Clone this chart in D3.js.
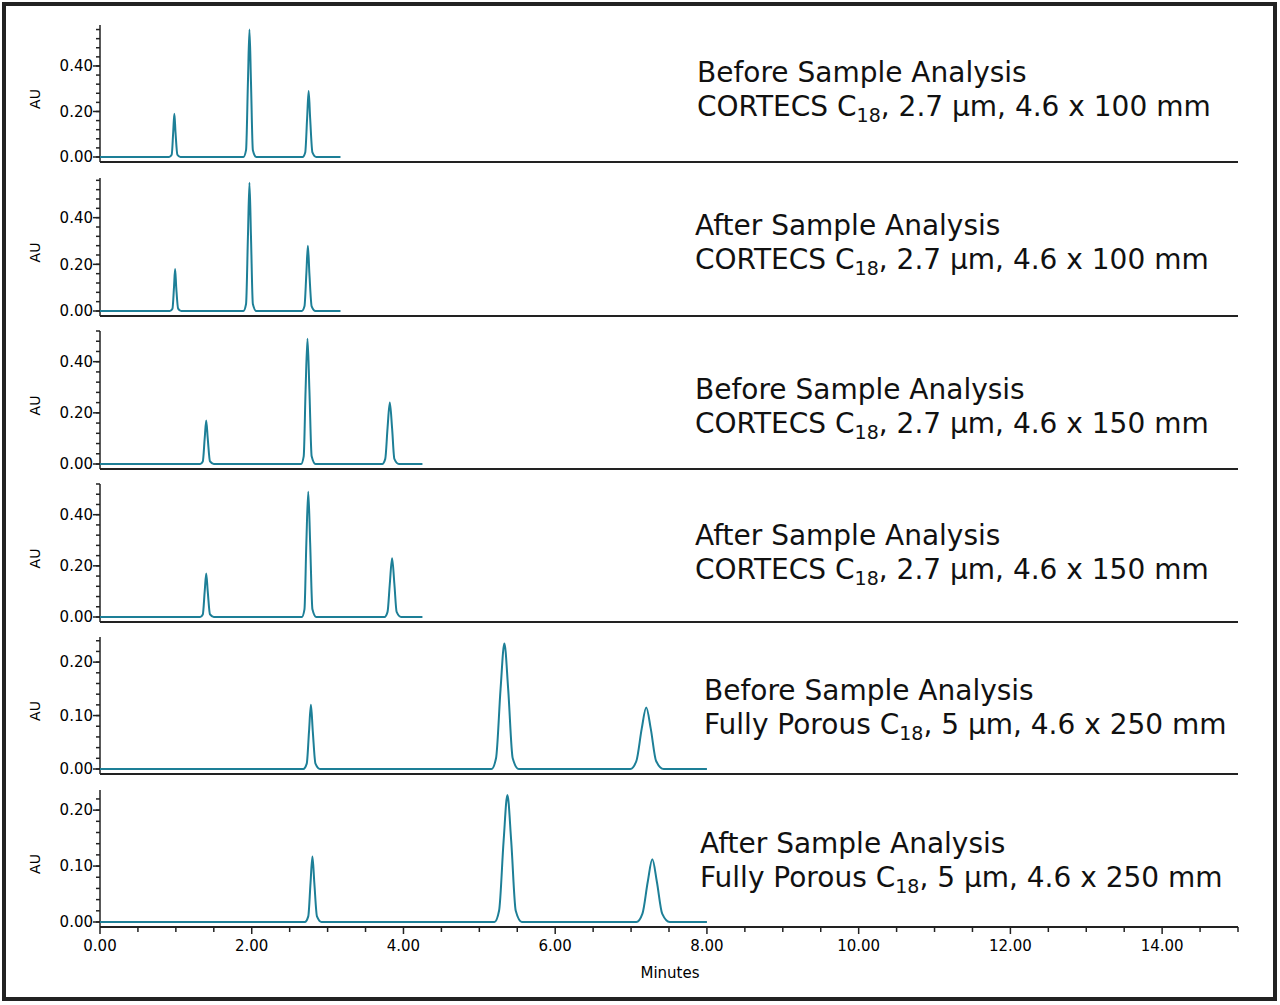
<!DOCTYPE html>
<html>
<head>
<meta charset="utf-8">
<script src="https://cdn.jsdelivr.net/npm/d3@7"></script>
<style>
  body { margin: 0; background: #fff; }
  svg { display: block; }
</style>
</head>
<body>
<svg id="chart" width="1280" height="1005"></svg>
<script>
// time axis ticks (minutes)
const xTicks = [0, 2, 4, 6, 8, 10, 12, 14];

// panel titles
const titleLines = [
  ["Before Sample Analysis", "CORTECS C", "18", ", 2.7 µm, 4.6 x 100 mm"],
  ["After Sample Analysis", "CORTECS C", "18", ", 2.7 µm, 4.6 x 100 mm"],
  ["Before Sample Analysis", "CORTECS C", "18", ", 2.7 µm, 4.6 x 150 mm"],
  ["After Sample Analysis", "CORTECS C", "18", ", 2.7 µm, 4.6 x 150 mm"],
  ["Before Sample Analysis", "Fully Porous C", "18", ", 5 µm, 4.6 x 250 mm"],
  ["After Sample Analysis", "Fully Porous C", "18", ", 5 µm, 4.6 x 250 mm"]
];

// y axis maxima and tick labels per panel
const yMax = [0.58, 0.57, 0.52, 0.52, 0.247, 0.236];
const yMajor = [
  [0, 0.2, 0.4], [0, 0.2, 0.4], [0, 0.2, 0.4], [0, 0.2, 0.4],
  [0, 0.1, 0.2], [0, 0.1, 0.2]
];
const yMinorStep = [0.04, 0.04, 0.04, 0.04, 0.02, 0.02];

// traces: [minutes, AU]
const trace1 = [[0,0],[0.91,0],[0.945,0.01],[0.965,0.11],[0.98,0.19],[0.995,0.11],[1.02,0.01],[1.06,0],
  [1.89,0],[1.925,0.03],[1.95,0.33],[1.97,0.56],[1.99,0.33],[2.015,0.03],[2.06,0],
  [2.67,0],[2.705,0.02],[2.73,0.17],[2.75,0.29],[2.77,0.17],[2.8,0.02],[2.85,0],[3.17,0]];
const trace2 = [[0,0],[0.92,0],[0.955,0.01],[0.975,0.1],[0.99,0.18],[1.005,0.1],[1.03,0.01],[1.07,0],
  [1.89,0],[1.925,0.03],[1.95,0.32],[1.97,0.55],[1.99,0.32],[2.015,0.03],[2.06,0],
  [2.66,0],[2.695,0.02],[2.72,0.16],[2.74,0.28],[2.76,0.16],[2.79,0.02],[2.84,0],[3.17,0]];
const trace3 = [[0,0],[1.32,0],[1.355,0.01],[1.38,0.1],[1.4,0.17],[1.42,0.1],[1.45,0.01],[1.5,0],
  [2.65,0],[2.685,0.03],[2.71,0.29],[2.735,0.49],[2.76,0.29],[2.79,0.03],[2.84,0],
  [3.72,0],[3.76,0.02],[3.79,0.14],[3.82,0.24],[3.85,0.14],[3.88,0.02],[3.94,0],[4.25,0]];
const trace4 = [[0,0],[1.32,0],[1.355,0.01],[1.38,0.1],[1.4,0.17],[1.42,0.1],[1.45,0.01],[1.5,0],
  [2.66,0],[2.695,0.03],[2.72,0.29],[2.745,0.49],[2.77,0.29],[2.8,0.03],[2.85,0],
  [3.75,0],[3.79,0.02],[3.82,0.13],[3.85,0.23],[3.88,0.13],[3.91,0.02],[3.97,0],[4.25,0]];
const trace5 = [[0,0],[2.68,0],[2.725,0.01],[2.755,0.07],[2.78,0.12],[2.805,0.07],[2.84,0.01],[2.9,0],
  [5.16,0],[5.22,0.02],[5.28,0.15],[5.33,0.235],[5.38,0.15],[5.44,0.02],[5.52,0],
  [6.99,0],[7.07,0.015],[7.14,0.075],[7.2,0.115],[7.26,0.075],[7.33,0.015],[7.43,0],[8.0,0]];
const trace6 = [[0,0],[2.7,0],[2.745,0.01],[2.775,0.07],[2.8,0.117],[2.825,0.07],[2.86,0.01],[2.92,0],
  [5.2,0],[5.26,0.02],[5.32,0.145],[5.37,0.227],[5.42,0.145],[5.48,0.02],[5.56,0],
  [7.07,0],[7.15,0.015],[7.22,0.072],[7.28,0.112],[7.34,0.072],[7.41,0.015],[7.51,0],[8.0,0]];
const traces = [trace1, trace2, trace3, trace4, trace5, trace6];

// layout
const panelTop = [25, 178, 331, 484, 637, 790];
const zeroY = [157, 311, 464, 617, 769, 922];
const titlePos = [[697, 82], [695, 235], [695, 399], [695, 545], [704, 700], [700, 853]];
const color = "#1d7f97";

const svg = d3.select("#chart");
svg.append("rect").attr("x", 4).attr("y", 4).attr("width", 1271).attr("height", 995)
  .attr("fill", "none").attr("stroke", "#222").attr("stroke-width", 4);

const x = d3.scaleLinear().domain([0, 15]).range([100, 1238]);

traces.forEach((tr, i) => {
  const y = d3.scaleLinear().domain([0, yMax[i]]).range([zeroY[i], panelTop[i]]);
  const g = svg.append("g");

  // x baseline
  g.append("line").attr("x1", 100).attr("x2", 1238)
    .attr("y1", zeroY[i] + 5).attr("y2", zeroY[i] + 5)
    .attr("stroke", "#222").attr("stroke-width", 2);

  // y axis
  const ya = g.append("g").attr("transform", "translate(100,0)");
  ya.append("line").attr("y1", panelTop[i]).attr("y2", zeroY[i] + 5).attr("stroke", "#222").attr("stroke-width", 1.5);
  const minors = d3.range(0, yMax[i] + 1e-9, yMinorStep[i]);
  ya.selectAll(".mn").data(minors).join("line")
    .attr("x1", -4).attr("x2", 0).attr("y1", d => y(d)).attr("y2", d => y(d))
    .attr("stroke", "#222").attr("stroke-width", 1.5);
  ya.selectAll(".mj").data(yMajor[i]).join("line")
    .attr("x1", -7).attr("x2", 0).attr("y1", d => y(d)).attr("y2", d => y(d))
    .attr("stroke", "#222").attr("stroke-width", 1.5);
  ya.selectAll("text").data(yMajor[i]).join("text")
    .attr("x", -7).attr("y", d => y(d)).attr("dy", "0.35em")
    .attr("text-anchor", "end").attr("font-family", "DejaVu Sans").attr("font-size", 15)
    .text(d => d.toFixed(2));
  g.append("text").attr("transform", `translate(40,${(panelTop[i] + zeroY[i]) / 2 + 8}) rotate(-90)`)
    .attr("text-anchor", "middle").attr("font-family", "DejaVu Sans").attr("font-size", 14).text("AU");

  // trace
  g.append("path").datum(tr)
    .attr("d", d3.line().x(d => x(d[0])).y(d => y(d[1])).curve(d3.curveMonotoneX))
    .attr("fill", "none").attr("stroke", color).attr("stroke-width", 2);

  // title
  const [tx, ty] = titlePos[i];
  const tl = titleLines[i];
  const t = g.append("g").attr("font-family", "DejaVu Sans").attr("font-size", 28).attr("fill", "#111");
  t.append("text").attr("x", tx).attr("y", ty).text(tl[0]);
  const t2 = t.append("text").attr("x", tx).attr("y", ty + 34);
  t2.append("tspan").text(tl[1]);
  t2.append("tspan").attr("font-size", 19).attr("dy", 6).text(tl[2]);
  t2.append("tspan").attr("dy", -6).text(tl[3]);
});

// bottom time axis
const xa = svg.append("g").attr("transform", `translate(0,${zeroY[5] + 5})`);
xa.selectAll(".mn").data(d3.range(0, 15.01, 0.5)).join("line")
  .attr("x1", d => x(d)).attr("x2", d => x(d)).attr("y1", 0).attr("y2", d => d % 2 === 0 ? 7 : 5)
  .attr("stroke", "#222").attr("stroke-width", 1.5);
xa.selectAll("text").data(xTicks).join("text")
  .attr("x", d => x(d)).attr("y", 24).attr("text-anchor", "middle")
  .attr("font-family", "DejaVu Sans").attr("font-size", 15).text(d => d.toFixed(2));
svg.append("text").attr("x", 670).attr("y", 978).attr("text-anchor", "middle")
  .attr("font-family", "DejaVu Sans").attr("font-size", 15).text("Minutes");
</script>
</body>
</html>
